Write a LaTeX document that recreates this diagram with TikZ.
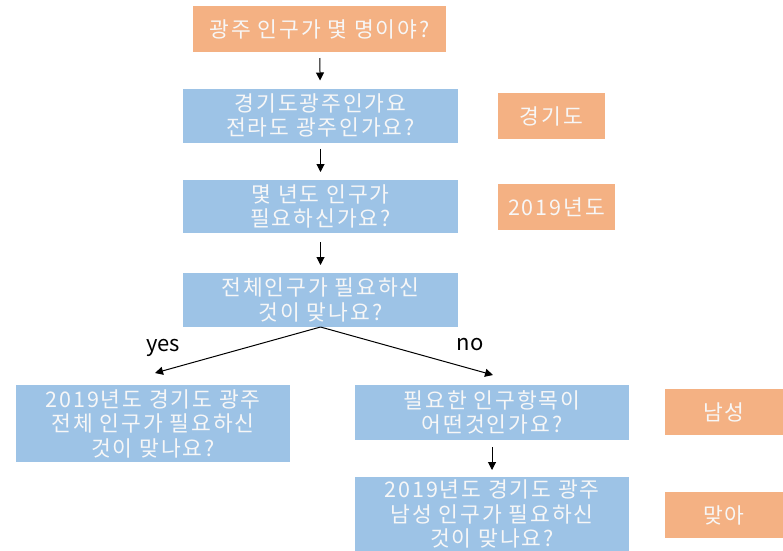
\documentclass[tikz,border=0pt]{standalone}
\usepackage{fontspec}
\setmainfont{Noto Sans CJK KR}
\newfontfamily\krsp[LetterSpace=9]{Noto Sans CJK KR}
\usetikzlibrary{arrows.meta}
\definecolor{orbox}{HTML}{F4B183}
\definecolor{blbox}{HTML}{9DC3E6}
\definecolor{txt}{HTML}{F7F7F7}
\tikzset{
  bx/.style={rectangle, inner sep=0pt, outer sep=0pt, align=center, text=txt,
    font=\krsp\fontsize{21.5}{24.5}\selectfont},
  obox/.style={bx, fill=orbox},
  bbox/.style={bx, fill=blbox},
  arr/.style={-{Triangle[length=8pt,width=8pt]}, line width=1pt, black},
  lbl/.style={font=\fontsize{22}{24}\selectfont, text=black}
}
\begin{document}
\begin{tikzpicture}[x=1pt,y=-1pt]
\useasboundingbox (0,0) rectangle (783,550);
\fill[white] (0,0) rectangle (783,550);
\node[obox, minimum width=253pt, minimum height=46pt] (q1) at (319.5,29) {광주 인구가 몇 명이야?};
\node[bbox, minimum width=275pt, minimum height=54pt] (q2) at (320.5,115.5) {경기도광주인가요\\전라도 광주인가요?};
\node[bbox, minimum width=275pt, minimum height=53pt] (q3) at (320.5,206.5) {몇 년도 인구가\\필요하신가요?};
\node[bbox, minimum width=275pt, minimum height=54pt] (q4) at (320.5,300) {전체인구가 필요하신\\것이 맞나요?};
\node[bbox, minimum width=274pt, minimum height=77pt] (q5) at (153,423.5) {2019년도 경기도 광주\\전체 인구가 필요하신\\것이 맞나요?};
\node[bbox, minimum width=274pt, minimum height=55pt] (q6) at (492,412.5) {필요한 인구항목이\\어떤것인가요?};
\node[bbox, minimum width=274pt, minimum height=74pt] (q7) at (492,514) {2019년도 경기도 광주\\남성 인구가 필요하신\\것이 맞나요?};
\node[obox, minimum width=107pt, minimum height=46pt] (a1) at (551.5,116) {경기도};
\node[obox, minimum width=117pt, minimum height=46pt] (a2) at (556.5,207) {2019년도};
\node[obox, minimum width=118pt, minimum height=46pt] (a3) at (724,412) {남성};
\node[obox, minimum width=118pt, minimum height=46pt] (a4) at (724,515) {맞아};
\draw[arr, shorten <=6pt, shorten >=8pt] (q1) -- (q2);
\draw[arr, shorten <=6pt, shorten >=8pt] (q2) -- (q3);
\draw[arr, shorten <=9pt, shorten >=8pt] (q3) -- (q4);
\draw[arr, shorten <=7pt, shorten >=7pt] (q6) -- (q7);
\coordinate (yesend) at (155,373);
\coordinate (noend) at (493,375);
\draw[arr] (q4.south) -- (yesend);
\draw[arr] (q4.south) -- (noend);
\node[lbl] (yl) at (163,348) {yes};
\node[lbl] (nl) at (470,345) {no};
\end{tikzpicture}
\end{document}
